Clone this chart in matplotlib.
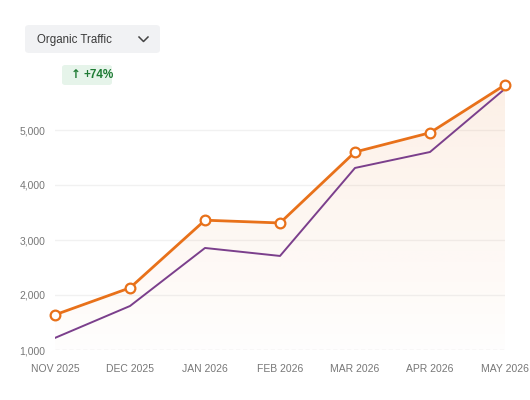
import matplotlib
matplotlib.use("Agg")
import matplotlib.pyplot as plt
import numpy as np
from matplotlib.patches import FancyBboxPatch
from matplotlib.path import Path
from matplotlib.patches import PathPatch

plt.rcParams['font.family'] = ['Liberation Sans', 'DejaVu Sans']

# data
months = ["NOV 2025", "DEC 2025", "JAN 2026", "FEB 2026", "MAR 2026", "APR 2026", "MAY 2026"]
organic = [1640, 2130, 3360, 3310, 4600, 4950, 5820]
previous = [1220, 1800, 2855, 2710, 4310, 4600, 5750]
yticks = [1000, 2000, 3000, 4000, 5000]
metric_label = "Organic Traffic"
change_arrow = "\u2191"
change_label = "+74%"

orange = "#e8711a"
purple = "#7b3f8c"
grey = "#777777"

fig = plt.figure(figsize=(5.3, 4.0), dpi=100)
ax = fig.add_axes([55/530, 50/400, 450/530, 275/400])

x = np.arange(len(months))
ax.set_xlim(0, len(months) - 1)
ax.set_ylim(1000, 6000)

# gradient fill under the orange line
verts = [(x[0], 1000)] + list(zip(x, organic)) + [(x[-1], 1000), (x[0], 1000)]
clip = PathPatch(Path(verts), facecolor="none", edgecolor="none")
ax.add_patch(clip)
grad = np.linspace(0.0, 1.0, 256).reshape(-1, 1)
rgba = np.zeros((256, 1, 4))
rgba[..., 0] = 0xe8 / 255
rgba[..., 1] = 0x71 / 255
rgba[..., 2] = 0x1a / 255
rgba[..., 3] = 0.01 + 0.10 * grad
img = ax.imshow(rgba, extent=[x[0], x[-1], 1000, max(organic)], origin="lower",
                aspect="auto", zorder=1)
img.set_clip_path(clip)

# grid
for t in yticks[1:]:
    ax.axhline(t, color="#f1f1f1", lw=1.0, zorder=0)
ax.axhline(1000, color="#e2e2e2", lw=1.0, ls=(0, (3, 2)), zorder=0)

ax.plot(x, previous, color=purple, lw=1.4, zorder=3)
ax.plot(x, organic, color=orange, lw=2.0, zorder=4, marker="o", markersize=7,
        markerfacecolor="white", markeredgecolor=orange, markeredgewidth=1.6,
        clip_on=False)

for s in ax.spines.values():
    s.set_visible(False)
ax.set_xticks(x)
ax.set_xticklabels(months)
ax.set_yticks(yticks)
ax.set_yticklabels(["{:,}".format(t) for t in yticks])
ax.tick_params(length=0, labelsize=7.5, labelcolor=grey)
ax.tick_params(axis="y", pad=7)
ax.tick_params(axis="x", pad=10)

# dropdown box
box = FancyBboxPatch((25/530, 1 - 53/400), 135/530, 28/400,
                     boxstyle="round,pad=0,rounding_size=0.008",
                     transform=fig.transFigure, facecolor="#f1f2f4", edgecolor="none")
fig.patches.append(box)
fig.text(37/530, 1 - 39.5/400, metric_label, fontsize=8.3, color="#3a3a3a",
         va="center", ha="left")
fig.lines.append(plt.Line2D([139/530, 143.5/530, 148/530],
                            [1 - 37/400, 1 - 41.5/400, 1 - 37/400],
                            transform=fig.transFigure, color="#444444", lw=1.1))

# change badge
badge = FancyBboxPatch((62/530, 1 - 85/400), 50/530, 20/400,
                       boxstyle="round,pad=0,rounding_size=0.006",
                       transform=fig.transFigure, facecolor="#e6f4ea", edgecolor="none")
fig.patches.append(badge)
fig.text(71/530, 1 - 75/400, change_arrow, fontsize=8.5, color="#1e7b34",
         fontweight="bold", va="center", ha="left", family="DejaVu Sans")
fig.text(84/530, 1 - 75/400, change_label, fontsize=8.5, color="#1e7b34",
         fontweight="bold", va="center", ha="left")

fig.savefig("out.png", dpi=100, facecolor="white")
